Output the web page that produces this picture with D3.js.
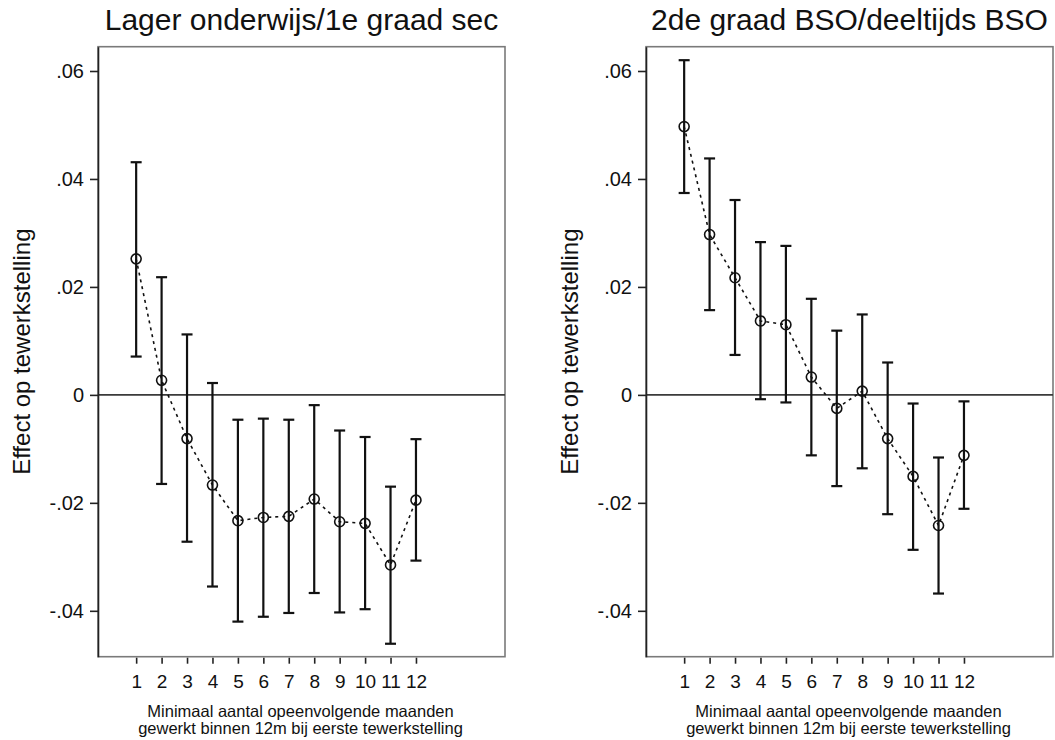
<!DOCTYPE html>
<html>
<head>
<meta charset="utf-8">
<script src="https://cdn.jsdelivr.net/npm/d3@7"></script>
<style>
  html, body { margin: 0; padding: 0; background: #fff; }
  svg { display: block; font-family: "Liberation Sans", Arial, sans-serif; }
</style>
</head>
<body>
<svg id="chart" width="1055" height="740"></svg>
<script>
// Minimum number of consecutive months worked (x categories)
const months = [1, 2, 3, 4, 5, 6, 7, 8, 9, 10, 11, 12];

// Panel 1: Lager onderwijs/1e graad sec — point estimates and 95% CI
const lagerEst = [0.0252, 0.0027, -0.0081, -0.0167, -0.0233, -0.0227, -0.0225, -0.0193, -0.0235, -0.0238, -0.0315, -0.0195];
const lagerLo  = [0.0071, -0.0165, -0.0272, -0.0355, -0.0420, -0.0411, -0.0404, -0.0367, -0.0403, -0.0397, -0.0461, -0.0307];
const lagerHi  = [0.0431, 0.0218, 0.0112, 0.0022, -0.0046, -0.0044, -0.0046, -0.0019, -0.0066, -0.0078, -0.0170, -0.0082];

// Panel 2: 2de graad BSO/deeltijds BSO — point estimates and 95% CI
const bsoEst = [0.0497, 0.0297, 0.0217, 0.0137, 0.0130, 0.0033, -0.0025, 0.0007, -0.0081, -0.0151, -0.0242, -0.0112];
const bsoLo  = [0.0374, 0.0157, 0.0074, -0.0008, -0.0014, -0.0112, -0.0169, -0.0136, -0.0221, -0.0287, -0.0368, -0.0211];
const bsoHi  = [0.0620, 0.0438, 0.0361, 0.0283, 0.0276, 0.0178, 0.0119, 0.0149, 0.0060, -0.0016, -0.0116, -0.0012];

// Y axis ticks and their Stata-style labels
const yTickValues = [-0.04, -0.02, 0, 0.02, 0.04, 0.06];
const yTickLabels = ["-.04", "-.02", "0", ".02", ".04", ".06"];

const panelTitles = ["Lager onderwijs/1e graad sec", "2de graad BSO/deeltijds BSO"];
const yTitle = "Effect op tewerkstelling";
const xTitleLines = ["Minimaal aantal opeenvolgende maanden", "gewerkt binnen 12m bij eerste tewerkstelling"];

const svg = d3.select("#chart");

const panels = [
  { left: 98, title: panelTitles[0], est: lagerEst, lo: lagerLo, hi: lagerHi, yTitleX: 30 },
  { left: 646, title: panelTitles[1], est: bsoEst, lo: bsoLo, hi: bsoHi, yTitleX: 578 }
];

const plotW = 407, plotTop = 46.7, plotBottom = 656.7;

panels.forEach(p => {
  const x = d3.scaleLinear().domain([-0.5, 15.5]).range([p.left, p.left + plotW]);
  const y = d3.scaleLinear().domain([-0.0485, 0.0645]).range([plotBottom, plotTop]);
  const g = svg.append("g");

  // Plot region frame
  g.append("rect")
    .attr("x", p.left).attr("y", plotTop)
    .attr("width", plotW).attr("height", plotBottom - plotTop)
    .attr("fill", "none").attr("stroke", "#7a7a7a").attr("stroke-width", 1.6);

  // Zero reference line
  g.append("line")
    .attr("x1", p.left).attr("x2", p.left + plotW)
    .attr("y1", y(0)).attr("y2", y(0))
    .attr("stroke", "#3a3a3a").attr("stroke-width", 1.6);

  // Y axis
  const yAxis = d3.axisLeft(y)
    .tickValues(yTickValues)
    .tickFormat((d, i) => yTickLabels[i])
    .tickSizeInner(8).tickSizeOuter(0).tickPadding(6);
  const ya = g.append("g").attr("transform", `translate(${p.left},0)`).call(yAxis);
  ya.select(".domain").attr("stroke", "#222").attr("stroke-width", 1.6);
  ya.selectAll(".tick line").attr("stroke", "#222").attr("stroke-width", 1.6);
  ya.selectAll(".tick text").attr("font-size", 20).attr("fill", "#111")
    .attr("font-family", "Liberation Sans, Arial, sans-serif");

  // X axis
  const xAxis = d3.axisBottom(x)
    .tickValues(months)
    .tickFormat(d3.format("d"))
    .tickSizeInner(6).tickSizeOuter(0).tickPadding(11);
  const xa = g.append("g").attr("transform", `translate(0,${plotBottom + 1})`).call(xAxis);
  xa.select(".domain").remove();
  xa.selectAll(".tick line").attr("stroke", "#222").attr("stroke-width", 1.6);
  xa.selectAll(".tick text").attr("font-size", 19).attr("fill", "#111")
    .attr("font-family", "Liberation Sans, Arial, sans-serif");

  // Panel title
  g.append("text")
    .attr("x", p.left + plotW / 2).attr("y", 30)
    .attr("text-anchor", "middle").attr("font-size", 30).attr("fill", "#111")
    .text(p.title);

  // Y axis title
  g.append("text")
    .attr("transform", `translate(${p.yTitleX},${(plotTop + plotBottom) / 2}) rotate(-90)`)
    .attr("text-anchor", "middle").attr("font-size", 24).attr("fill", "#111")
    .text(yTitle);

  // X axis title (two lines)
  xTitleLines.forEach((line, i) => {
    g.append("text")
      .attr("x", p.left + plotW / 2 - 1).attr("y", 717 + i * 17)
      .attr("text-anchor", "middle").attr("font-size", 16.5).attr("fill", "#111")
      .text(line);
  });

  const rows = months.map((m, i) => ({ m, est: p.est[i], lo: p.lo[i], hi: p.hi[i] }));

  // Confidence intervals
  const ci = g.append("g").attr("stroke", "#111").attr("stroke-width", 2.2);
  ci.selectAll("line.bar").data(rows).join("line")
    .attr("class", "bar")
    .attr("x1", d => x(d.m)).attr("x2", d => x(d.m))
    .attr("y1", d => y(d.lo)).attr("y2", d => y(d.hi));
  ci.selectAll("line.capHi").data(rows).join("line")
    .attr("class", "capHi")
    .attr("x1", d => x(d.m) - 5.5).attr("x2", d => x(d.m) + 5.5)
    .attr("y1", d => y(d.hi)).attr("y2", d => y(d.hi));
  ci.selectAll("line.capLo").data(rows).join("line")
    .attr("class", "capLo")
    .attr("x1", d => x(d.m) - 5.5).attr("x2", d => x(d.m) + 5.5)
    .attr("y1", d => y(d.lo)).attr("y2", d => y(d.lo));

  // Dashed connecting line
  g.append("path")
    .datum(rows)
    .attr("fill", "none").attr("stroke", "#111").attr("stroke-width", 1.6)
    .attr("stroke-dasharray", "3,4")
    .attr("d", d3.line().x(d => x(d.m)).y(d => y(d.est)));

  // Point estimates (hollow circles)
  g.selectAll("circle.pt").data(rows).join("circle")
    .attr("class", "pt")
    .attr("cx", d => x(d.m)).attr("cy", d => y(d.est)).attr("r", 5)
    .attr("fill", "none").attr("stroke", "#111").attr("stroke-width", 1.6);
});
</script>
</body>
</html>
